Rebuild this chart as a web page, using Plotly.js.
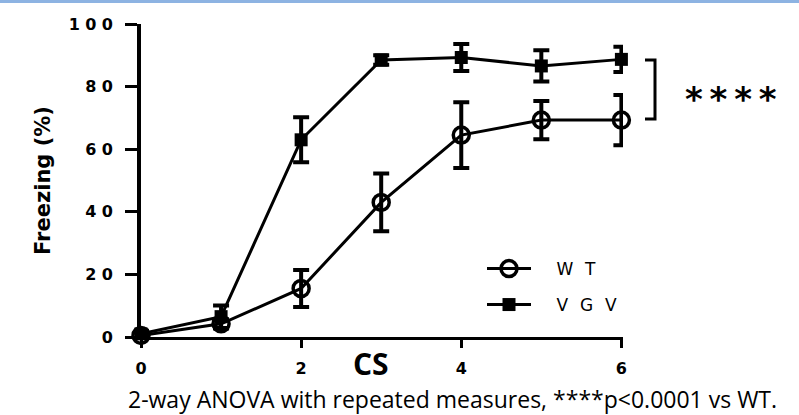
<!DOCTYPE html>
<html>
<head>
<meta charset="utf-8">
<script src="https://cdn.plot.ly/plotly-3.0.1.min.js"></script>
<style>
  html, body { margin: 0; padding: 0; background: #ffffff; }
  #wrap { position: relative; width: 799px; height: 415px; }
  #chart { width: 799px; height: 415px; }
  #topband { position: absolute; left: 0; top: 0; width: 799px; height: 3px; background: #8db3e2; }
</style>
</head>
<body>
<div id="wrap">
  <div id="chart"></div>
  <div id="topband"></div>
</div>
<script>
// ---- data ----
const cs = [0, 1, 2, 3, 4, 5, 6];
const wtMean = [0.5, 4.2, 15.5, 43.0, 64.5, 69.3, 69.3];
const wtErr  = [0.5, 1.5, 5.9, 9.2, 10.5, 6.1, 8.0];
const vgvMean = [1.0, 6.5, 63.0, 88.5, 89.3, 86.6, 88.7];
const vgvErr  = [1.0, 3.6, 7.2, 1.5, 4.3, 5.0, 4.0];
const yTickVals = [0, 20, 40, 60, 80, 100];
const yTickText = ["0", "2\u20040", "4\u20040", "6\u20040", "8\u20040", "1\u20040\u20040"];
const xTickVals = [0, 2, 4, 6];
const xTickText = ["0", "2", "4", "6"];
const seriesNames = ["\u2003\u2009W\u2002\u2009T", "\u2003\u2009V\u2002\u2009G\u2002\u2009V"];
const xTitle = "CS";
const yTitle = "Freezing (%)";
const caption = "2-way ANOVA with repeated measures, ****p<0.0001 vs WT.";
const sigText = "*\u2009*\u2009*\u2009*";

const L = 141, R = 623, T = 24, B = 337;
const W = R - L, H = B - T;
const px = v => (v - L) / W;
const py = v => (B - v) / H;

const tickFont = { family: "DejaVu Sans, sans-serif", size: 16, color: "#000", weight: "bold" };

const wt = {
  x: cs, y: wtMean, name: seriesNames[0], type: "scatter", mode: "lines+markers",
  legend: "legend",
  cliponaxis: false,
  line: { color: "#000", width: 3 },
  marker: { symbol: "circle-open", size: 16, color: "#000", line: { width: 3.5, color: "#000" } },
  error_y: { type: "data", array: wtErr, visible: true, color: "#000", thickness: 4, width: 8 }
};
const vgv = {
  x: cs, y: vgvMean, name: seriesNames[1], type: "scatter", mode: "lines+markers",
  legend: "legend2",
  cliponaxis: false,
  line: { color: "#000", width: 3 },
  marker: { symbol: "square", size: 13, color: "#000" },
  error_y: { type: "data", array: vgvErr, visible: true, color: "#000", thickness: 4, width: 8 }
};

const legendFont = { family: "DejaVu Sans, sans-serif", size: 17, color: "#000" };
const legBase = { xanchor: "left", yanchor: "middle", font: legendFont, bgcolor: "rgba(0,0,0,0)", borderwidth: 0, itemwidth: 44 };

const layout = {
  width: 799, height: 415,
  margin: { l: L, r: 799 - R, t: T, b: 415 - B, pad: 0 },
  paper_bgcolor: "#fff", plot_bgcolor: "#fff",
  showlegend: true,
  legend: Object.assign({ x: px(482), y: py(269) }, legBase),
  legend2: Object.assign({ x: px(482), y: py(305) }, legBase),
  xaxis: {
    range: [0, 6.02], showgrid: false, zeroline: false,
    showline: true, linecolor: "#000", linewidth: 3,
    ticks: "outside", ticklen: 8, tickwidth: 3, tickcolor: "#000",
    tickvals: xTickVals, ticktext: xTickText, tickfont: tickFont, ticklabelstandoff: 7,
    automargin: false
  },
  yaxis: {
    range: [0, 100], showgrid: false, zeroline: false,
    showline: true, linecolor: "#000", linewidth: 4,
    ticks: "outside", ticklen: 12, tickwidth: 3, tickcolor: "#000",
    tickvals: yTickVals, ticktext: yTickText, tickfont: tickFont, ticklabelstandoff: 9,
    title: { text: yTitle, font: { family: "DejaVu Sans, sans-serif", size: 21, color: "#000", weight: "bold" }, standoff: 13 },
    automargin: false
  },
  shapes: [
    { type: "path", xref: "paper", yref: "paper",
      path: "M " + px(645) + " " + py(60) + " L " + px(655) + " " + py(60) + " L " + px(655) + " " + py(119) + " L " + px(645) + " " + py(119),
      line: { color: "#000", width: 3 }, layer: "above" }
  ],
  annotations: [
    { xref: "paper", yref: "paper", x: px(371), y: py(364), text: xTitle, showarrow: false, xanchor: "center", yanchor: "middle",
      font: { family: "Open Sans, sans-serif", size: 30, color: "#000", weight: "bold" } },
    { xref: "paper", yref: "paper", x: px(731), y: py(99), text: sigText, showarrow: false, xanchor: "center", yanchor: "middle",
      font: { family: "DejaVu Sans, sans-serif", size: 34, color: "#000", weight: "bold" } },
    { xref: "paper", yref: "paper", x: px(452), y: py(399), text: caption, showarrow: false, xanchor: "center", yanchor: "middle",
      font: { family: "Open Sans, sans-serif", size: 23, color: "#000" } }
  ]
};

Plotly.newPlot("chart", [wt, vgv], layout, { displayModeBar: false, staticPlot: true });
</script>
</body>
</html>
